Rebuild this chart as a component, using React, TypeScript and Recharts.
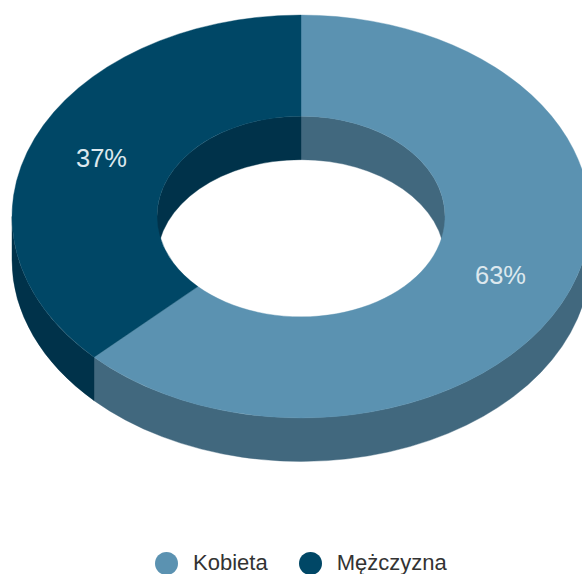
import React from "react";
import { PieChart, Pie, Legend } from "recharts";

const categories = ["Kobieta", "Mężczyzna"];
const shares = [62.7, 37.3];
const topColors = ["#5b92b1", "#004766"];
const wallColors = ["#41687e", "#00324a"];

const CX = 301;
const CY = 216.5;
const OUTER = 289;
const INNER = 144;
const TILT = 0.697;
const DEPTH = 43.5;

const topData = categories.map((name, i) => ({ name, value: shares[i], fill: topColors[i] }));
const wallData = categories.map((name, i) => ({ name, value: shares[i], fill: wallColors[i] }));

const rad = (a: number) => (a * Math.PI) / 180;
const pt = (cx: number, cy: number, r: number, a: number, dy = 0) =>
  [cx + r * Math.cos(rad(a)), cy - r * TILT * Math.sin(rad(a)) + dy] as const;

// Elliptical arc from the current point to angle b; sweep 1 is clockwise on screen
const arc = (cx: number, cy: number, r: number, a: number, b: number, sweep: number, dy = 0) => {
  const [x, y] = pt(cx, cy, r, b, dy);
  return `A ${r} ${r * TILT} 0 ${Math.abs(a - b) > 180 ? 1 : 0} ${sweep} ${x} ${y}`;
};

const wallPath = (cx: number, cy: number, r: number, hi: number, lo: number) => {
  const [sx, sy] = pt(cx, cy, r, hi);
  const [ex, ey] = pt(cx, cy, r, lo, DEPTH);
  return `M ${sx} ${sy} ${arc(cx, cy, r, hi, lo, 1)} L ${ex} ${ey} ${arc(cx, cy, r, lo, hi, 0, DEPTH)} Z`;
};

const WallShape = (p: any) => {
  const { cx, cy, innerRadius, outerRadius, startAngle, endAngle, fill } = p;
  const paths: string[] = [];
  // Outer wall faces the viewer on the lower half, inner wall on the upper half.
  const ranges: [number, number, number][] = [
    [outerRadius, 0, -180],
    [innerRadius, 90, 0],
    [innerRadius, -180, -270],
  ];
  for (const [r, top, bottom] of ranges) {
    const hi = Math.min(startAngle, top);
    const lo = Math.max(endAngle, bottom);
    if (hi > lo) paths.push(wallPath(cx, cy, r, hi, lo));
  }
  return <path d={paths.join(" ")} fill={fill} stroke={fill} strokeWidth={0.4} />;
};

const TopShape = (p: any) => {
  const { cx, cy, innerRadius, outerRadius, startAngle, endAngle, fill } = p;
  const [ax, ay] = pt(cx, cy, outerRadius, startAngle);
  const [bx, by] = pt(cx, cy, innerRadius, endAngle);
  const d = `M ${ax} ${ay} ${arc(cx, cy, outerRadius, startAngle, endAngle, 1)} L ${bx} ${by} ${arc(cx, cy, innerRadius, endAngle, startAngle, 0)} Z`;
  return <path d={d} fill={fill} stroke={fill} strokeWidth={0.4} />;
};

const renderLabel = (p: any) => {
  const { cx, cy, innerRadius, outerRadius, midAngle, percent } = p;
  const [x, y] = pt(cx, cy, (innerRadius + outerRadius) / 2, midAngle);
  return (
    <text
      x={x}
      y={y}
      fill="#dde8ee"
      fontFamily="Liberation Sans"
      fontSize={25.5}
      textAnchor="middle"
      dominantBaseline="central"
    >
      {`${Math.round(percent * 100)}%`}
    </text>
  );
};

const LegendContent = ({ payload }: any) => (
  <div
    style={{
      display: "flex",
      justifyContent: "flex-start",
      alignItems: "center",
      fontFamily: "Liberation Sans",
      fontSize: 22,
      color: "#333333",
      height: 24,
    }}
  >
    {(payload || [])
      .filter((e: any) => topColors.includes(e.color))
      .map((e: any) => (
        <div key={e.value} style={{ display: "flex", alignItems: "center", marginRight: 31 }}>
          <svg width={23} height={23} style={{ marginRight: 15 }}>
            <circle cx={11.5} cy={11.5} r={11.5} fill={e.color} />
          </svg>
          <span>{e.value}</span>
        </div>
      ))}
  </div>
);

export default function App() {
  return (
    <div style={{ position: "absolute", left: 0, top: 0, width: 582, height: 574, overflow: "hidden" }}>
      <PieChart width={582} height={574} margin={{ top: 0, right: 0, bottom: 0, left: 0 }}>
        <Pie
          data={wallData}
          dataKey="value"
          nameKey="name"
          cx={CX}
          cy={CY}
          innerRadius={INNER}
          outerRadius={OUTER}
          startAngle={90}
          endAngle={-270}
          stroke="none"
          legendType="none"
          shape={WallShape}
          isAnimationActive={false}
        />
        <Pie
          data={topData}
          dataKey="value"
          nameKey="name"
          cx={CX}
          cy={CY}
          innerRadius={INNER}
          outerRadius={OUTER}
          startAngle={90}
          endAngle={-270}
          stroke="none"
          shape={TopShape}
          label={renderLabel}
          labelLine={false}
          isAnimationActive={false}
        />
        <Legend
          content={<LegendContent />}
          wrapperStyle={{ position: "absolute", left: 155, top: 551, width: 427, bottom: "auto" }}
        />
      </PieChart>
    </div>
  );
}
